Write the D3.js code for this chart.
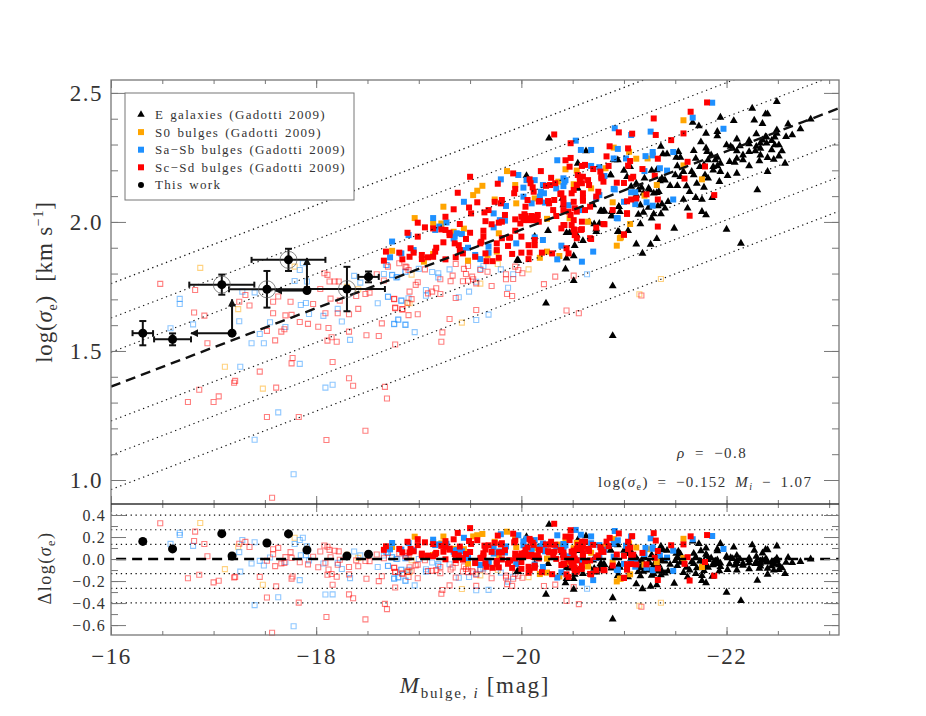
<!DOCTYPE html>
<html>
<head>
<meta charset="utf-8">
<script src="https://cdn.jsdelivr.net/npm/d3@7"></script>
<style>
body { margin: 0; background: #fff; }
text { font-family: "Liberation Serif", serif; fill: #333; }
</style>
</head>
<body>
<div id="chart"></div>
<script>
// all points as [M_bulge, log(sigma_e)]
const openRed = [[-16.48,1.76],[-16.82,1.736],[-16.81,1.649],[-16.91,1.637],[-16.94,1.53],[-17.31,1.717],[-17.25,1.691],[-17.35,1.676],[-17.58,1.691],[-17.63,1.711],[-17.75,1.691],[-17.58,1.646],[-17.70,1.638],[-17.76,1.64],[-17.84,1.612],[-17.92,1.605],[-17.97,1.682],[-17.52,1.578],[-17.69,1.584],[-17.66,1.575],[-17.60,1.541],[-18.02,1.594],[-18.12,1.589],[-18.09,1.646],[-18.14,1.703],[-18.04,1.74],[-18.08,1.801],[-18.11,1.795],[-18.13,1.769],[-18.18,1.769],[-18.22,1.769],[-18.23,1.695],[-18.21,1.646],[-18.32,1.642],[-18.41,1.663],[-18.39,1.713],[-18.48,1.721],[-18.52,1.726],[-18.59,1.797],[-18.66,1.773],[-18.76,1.702],[-18.77,1.668],[-18.84,1.662],[-18.64,1.607],[-18.32,1.575],[-18.49,1.561],[-18.61,1.558],[-18.15,1.553],[-18.11,1.54],[-18.20,1.536],[-18.77,1.525],[-17.77,1.473],[-17.76,1.452],[-18.16,1.457],[-17.45,1.42],[-18.32,1.394],[-17.21,1.384],[-18.81,1.84],[-18.87,1.827],[-18.70,1.827],
  [-16.75,1.302],[-16.86,1.35],[-17.0,1.302],[-17.05,1.324],[-17.20,1.377],[-17.61,1.358],[-17.52,1.244],[-17.83,1.244],[-18.10,1.155],[-18.36,1.365],[-18.48,1.191],[-18.67,1.361],[-18.69,1.316],[-17.57,0.931],
  [-18.88,1.824],[-18.90,1.814],[-18.99,1.766],[-18.97,1.756],[-19.06,1.816],[-19.36,1.837],[-19.44,1.818],[-19.46,1.798],[-19.33,1.792],[-19.48,1.829],[-19.31,1.77],[-19.43,1.77],[-19.48,1.772],[-19.52,1.788],[-19.53,1.778],[-19.60,1.814],[-19.67,1.807],[-19.56,1.762],[-19.71,1.752],[-19.21,1.778],[-19.17,1.743],[-19.13,1.73],[-19.09,1.723],[-19.21,1.721],[-18.91,1.73],[-18.93,1.701],[-18.76,1.701],[-18.89,1.687],[-18.77,1.666],[-18.84,1.661],[-18.90,1.639],[-18.99,1.642],[-19.36,1.705],[-19.86,1.721],[-19.91,1.713],[-19.85,1.797],[-19.92,1.779],[-19.85,1.778],[-19.94,1.827],[-20.01,1.801],[-19.97,1.814],[-20.22,1.759],[-20.33,1.788],[-20.51,1.792],[-19.56,1.659],[-19.30,1.624],[-20.44,1.657],[-20.56,1.646],[-19.23,1.572],[-19.22,1.536],[-21.17,1.715]];
const openBlue = [[-16.67,1.702],[-16.67,1.682],[-16.58,1.588],[-16.80,1.603],[-17.25,1.615],[-17.40,1.727],[-17.28,1.73],[-17.45,1.566],[-17.37,1.53],[-17.49,1.53],[-17.55,1.611],[-17.70,1.593],[-17.26,1.439],[-17.84,1.45],[-17.79,1.771],[-17.84,1.814],[-17.91,1.769],[-17.87,1.84],[-17.85,1.678],[-17.90,1.686],[-17.93,1.643],[-18.07,1.636],[-18.21,1.663],[-18.25,1.614],[-18.33,1.543],[-18.37,1.791],[-18.43,1.765],[-18.60,1.685],[-18.66,1.798],[-18.74,1.795],[-18.79,1.786],[-18.87,1.807],[-18.70,1.711],[-18.83,1.695],[-18.80,1.62],[-18.76,1.605],[-18.87,1.601],[-18.69,1.833],
  [-17.63,1.262],[-17.40,1.156],[-17.78,1.022],[-18.09,1.358],[-18.16,1.369],
  [-18.68,1.833],[-18.74,1.794],[-18.78,1.785],[-18.87,1.807],[-19.0,1.818],[-19.13,1.806],[-19.19,1.801],[-19.19,1.785],[-19.30,1.816],[-19.60,1.818],[-19.63,1.829],[-19.80,1.816],[-19.92,1.797],[-19.56,1.768],[-19.49,1.73],[-19.87,1.745],[-19.07,1.736],[-19.07,1.714],[-19.39,1.708],[-18.70,1.709],[-18.83,1.695],[-18.90,1.704],[-18.80,1.623],[-18.76,1.604],[-18.87,1.602],[-18.96,1.573],[-19.56,1.62],[-19.68,1.641],[-20.64,1.797]];
const openOrange = [[-16.87,1.822],[-17.24,1.662],[-17.11,1.439],[-17.79,1.827],[-18.41,1.739],[-18.30,1.749],[-18.89,1.687],[-17.48,1.354],[-19.42,1.61],[-19.60,1.761],[-19.77,1.837],[-20.07,1.816],[-18.93,1.796],[-18.91,1.685],[-21.36,1.779],[-21.15,1.72]];

const ellipticals = [[-22.49,2.466],[-22.25,2.44],[-22.38,2.418],[-22.40,2.418],[-21.94,2.405],[-22.07,2.392],[-22.27,2.394],[-22.35,2.381],[-22.60,2.379],[-22.82,2.398],[-22.72,2.36],[-22.64,2.337],[-22.58,2.33],[-22.49,2.356],[-22.49,2.343],[-22.47,2.328],[-22.44,2.315],[-22.38,2.33],[-22.29,2.341],[-22.35,2.317],[-22.33,2.305],[-22.10,2.321],[-22.22,2.315],[-22.22,2.302],[-22.0,2.298],[-22.04,2.292],[-22.13,2.294],[-22.10,2.275],[-22.06,2.285],[-22.22,2.272],[-22.28,2.275],[-22.33,2.285],[-22.47,2.298],[-22.51,2.298],[-22.54,2.275],[-22.39,2.328],[-22.51,2.255],[-22.46,2.242],[-22.40,2.249],[-22.32,2.236],[-22.57,2.227],[-22.40,2.195],[-22.22,2.217],[-22.16,2.24],[-22.08,2.23],[-22.10,2.246],[-22.10,2.188],[-22.01,2.179],[-21.93,2.156],[-22.30,2.124],[-21.94,2.195],[-21.91,2.25],[-21.85,2.259],[-21.91,2.217],[-21.87,2.214],[-21.82,2.24],[-21.78,2.221],[-21.81,2.272],[-21.80,2.286],[-21.75,2.31],[-21.80,2.343],[-21.91,2.35],[-21.91,2.333],[-21.73,2.372],[-21.67,2.385],[-21.68,2.276],[-21.70,2.246],[-21.53,2.272],[-21.51,2.25],[-21.55,2.25],[-21.52,2.217],[-21.42,2.263],[-21.38,2.263],[-21.36,2.292],[-21.58,2.195],[-21.50,2.182],[-21.68,2.182],[-21.82,2.169],[-21.79,2.182],[-21.64,2.117],[-21.71,2.149],[-21.61,2.139],[-21.52,2.14],[-21.45,2.14],[-21.78,2.134],[-21.70,2.094],[-21.76,2.087],[-21.86,2.094],[-21.58,2.087],[-21.62,2.053],[-21.76,2.04],[-21.80,2.027],[-22.0,1.971],[-22.14,1.917],[-21.49,1.975],[-21.32,1.935],[-21.26,1.913],[-21.12,1.914],[-21.18,1.878],[-21.16,1.992],[-21.04,1.966],[-20.95,1.962],[-21.27,2.014],[-21.14,2.029],[-21.19,2.037],[-21.29,2.031],[-21.36,2.031],[-21.40,2.053],[-21.43,2.078],[-21.37,2.069],[-21.33,2.062],[-21.24,2.056],[-21.16,2.065],[-21.14,2.124],[-21.12,2.149],[-21.17,2.134],[-21.24,2.13],[-21.32,2.113],[-21.34,2.117],[-21.20,2.169],[-21.27,2.199],[-21.32,2.201],[-21.37,2.169],[-21.35,2.159],[-21.0,2.199],[-21.03,2.175],[-20.87,2.182],[-20.95,2.059],[-20.96,2.04],[-20.88,2.023],[-20.80,2.042],[-20.77,2.042],[-22.39,2.305],[-22.44,2.279],[-22.16,2.259],[-22.33,2.259],[-22.29,2.292],[-21.89,2.24],[-21.94,2.227],[-22.03,2.233],[-21.87,2.2],[-21.74,2.214],[-21.66,2.195],[-21.55,2.175],[-21.40,2.162],[-21.29,2.111],[-21.25,2.124],[-21.19,2.111],[-21.12,2.104],[-21.07,2.137],[-21.06,2.214],[-20.94,2.24],
  [-20.27,2.324],[-20.63,2.275],[-20.55,2.227],[-20.40,2.091],[-20.05,2.179],[-20.55,2.13],[-20.87,2.182],[-20.70,2.066],[-20.78,2.042],[-20.81,2.042],[-20.88,2.04],[-20.88,2.023],[-20.95,2.059],[-20.76,1.994],[-20.71,1.992],[-20.66,2.0],[-20.44,1.958],[-20.47,1.958],[-20.26,1.966],[-20.54,1.949],[-20.60,1.927],[-20.73,1.962],[-20.94,1.962],[-20.52,1.908],[-20.44,1.859],[-20.51,1.868],[-19.96,1.852],[-20.43,1.817],[-20.13,1.943],[-20.91,2.24],[-20.41,2.066],[-20.73,1.972],
  [-19.97,1.85],[-20.51,1.772],[-20.24,1.685],[-20.89,1.752],[-20.89,1.559]];
const s0Bulges = [[-19.86,2.197],[-19.62,2.14],[-19.57,2.121],[-19.53,2.104],[-19.24,2.059],[-18.96,2.015],[-19.22,1.994],[-19.44,1.974],[-19.78,1.956],[-19.95,2.072],[-19.74,2.087],[-19.94,2.143],[-20.13,2.091],[-20.36,2.156],[-20.43,2.204],[-20.54,2.199],[-20.90,2.288],[-20.51,2.146],[-20.89,2.076],[-20.25,1.885],[-20.18,1.861],[-20.37,1.868],[-19.48,1.85],[-19.67,1.872],[-19.76,1.885],[-19.05,1.846],[-19.34,1.962],[-20.93,1.908],[-20.82,2.208],[-19.14,1.994],
  [-21.58,2.394],[-21.05,2.272],[-21.12,2.245],[-21.23,2.246],[-21.58,2.219],[-21.76,2.165],[-21.32,2.143],[-21.20,2.102],[-21.06,1.992],[-20.97,1.94],
  [-20.68,2.13],[-20.25,2.012],[-20.47,2.014],[-20.65,2.001],[-20.96,1.937],[-18.74,1.888],[-19.14,1.876]];
const sabBulges = [[-20.53,2.315],[-20.58,2.279],[-20.68,2.279],[-20.91,2.363],[-20.94,2.283],[-20.90,2.246],[-20.35,2.239],[-19.97,2.182],[-19.80,2.165],[-20.05,2.162],[-20.13,2.162],[-20.21,2.143],[-20.41,2.139],[-20.43,2.162],[-20.02,2.133],[-19.44,2.078],[-19.85,2.062],[-20.02,2.098],[-20.18,2.098],[-20.23,2.075],[-20.22,2.111],[-20.10,2.072],[-20.46,2.065],[-20.68,2.217],[-20.76,2.212],[-20.73,2.091],[-20.91,2.126],[-20.94,2.014],[-20.57,2.046],[-20.76,2.104],[-19.14,2.015],[-19.27,1.998],[-19.20,1.982],[-19.16,1.969],[-18.90,1.949],[-19.73,2.033],[-19.73,1.979],[-19.79,2.007],[-19.37,1.956],[-19.42,1.953],[-19.35,1.943],[-19.48,1.9],[-19.43,1.891],[-19.60,1.856],[-19.68,1.881],[-19.95,1.917],[-20.21,1.93],[-20.39,1.908],[-20.13,1.94],[-20.70,1.885],[-20.59,1.846],[-20.35,1.855],[-18.83,1.878],[-18.95,1.891],[-19.34,1.936],
  [-21.86,2.462],[-21.67,2.404],[-21.97,2.361],[-21.26,2.35],[-21.07,2.337],[-21.28,2.271],[-21.28,2.258],[-21.21,2.255],[-21.48,2.271],[-21.02,2.246],[-21.35,2.208],[-21.42,2.199],[-21.20,2.197],[-20.90,2.128],[-21.07,2.115],[-21.11,2.115],[-21.48,2.087],[-21.0,2.078],[-21.11,2.069],[-21.22,2.076],[-21.28,2.063],[-20.93,2.015],[-20.81,2.178],
  [-20.19,2.117],[-20.18,2.085],[-20.41,2.169],[-20.42,2.156],[-20.34,2.13],[-18.74,1.924],[-19.55,1.872],[-18.72,1.863],[-19.84,2.005],[-19.68,1.905]];
const scdBulges = [[-20.32,2.339],[-20.48,2.305],[-19.50,2.175],[-19.38,2.113],[-19.77,2.148],[-19.92,2.188],[-20.19,2.197],[-20.43,2.239],[-20.48,2.248],[-20.47,2.214],[-20.86,2.293],[-20.95,2.347],[-20.83,2.254],[-20.85,2.217],[-20.59,2.217],[-20.62,2.221],[-20.70,2.205],[-20.77,2.195],[-20.78,2.175],[-20.57,2.175],[-20.60,2.175],[-20.65,2.162],[-20.66,2.143],[-20.80,2.156],[-20.75,2.117],[-20.59,2.15],[-20.51,2.124],[-20.49,2.111],[-20.29,2.171],[-20.33,2.15],[-20.28,2.143],[-20.08,2.165],[-20.09,2.15],[-20.11,2.134],[-20.12,2.117],[-19.94,2.128],[-19.93,2.111],[-20.18,2.081],[-20.06,2.085],[-20.04,2.059],[-20.32,2.085],[-20.38,2.108],[-20.41,2.091],[-20.51,2.078],[-20.60,2.082],[-20.27,2.072],[-20.31,2.046],[-20.41,2.046],[-20.46,2.04],[-20.52,2.053],[-20.48,2.027],[-20.54,2.04],[-20.62,2.046],[-20.67,2.059],[-20.51,2.007],[-20.49,1.988],[-20.41,1.988],[-20.39,1.975],[-20.59,2.001],[-20.51,1.971],[-20.59,1.972],[-20.52,1.949],[-20.68,1.934],[-20.80,1.992],[-20.04,2.023],[-20.10,2.023],[-20.0,2.02],[-20.14,2.02],[-20.02,2.007],[-20.07,2.007],[-20.12,2.007],[-19.94,2.01],[-19.99,1.994],[-20.17,2.001],[-20.34,2.023],[-19.94,1.966],[-19.89,1.94],[-20.0,1.943],[-20.13,1.93],[-20.13,1.91],[-20.07,1.91],[-20.0,1.881],[-20.08,1.881],[-20.20,1.881],[-20.30,1.878],[-20.44,1.898],[-20.46,1.878],[-20.07,1.856],[-19.91,1.876],[-19.87,1.907],[-19.76,1.917],[-19.78,1.861],[-19.65,1.878],[-19.63,1.966],[-19.63,1.943],[-19.61,1.923],[-19.60,1.917],[-19.81,2.085],[-19.74,2.078],[-19.80,2.072],[-19.57,2.076],[-19.49,2.056],[-19.51,2.033],[-19.68,2.046],[-19.64,2.037],[-19.84,2.027],[-19.65,2.003],[-19.81,2.001],[-19.71,1.991],[-19.40,1.992],[-19.26,2.02],[-19.34,2.049],[-18.99,1.997],[-19.06,1.979],[-19.14,1.975],[-18.89,1.958],[-18.99,1.943],[-19.22,1.971],[-19.26,1.969],[-19.30,1.958],[-19.30,1.949],[-19.50,1.958],[-19.24,1.921],[-19.35,1.917],[-19.39,1.91],[-19.40,1.891],[-19.43,1.878],[-19.55,1.865],[-19.17,1.9],[-19.16,1.885],[-18.92,1.898],[-18.95,1.881],[-19.03,1.872],[-19.03,1.856],[-18.91,1.865],[-19.09,1.863],[-19.14,1.865],[-18.84,1.855],[-19.66,1.848],[-19.72,1.848],[-18.68,1.885],[-18.66,1.85],
  [-21.81,2.463],[-21.65,2.427],[-21.29,2.401],[-21.58,2.343],[-21.31,2.337],[-21.08,2.342],[-21.46,2.317],[-21.04,2.285],[-21.62,2.233],[-21.33,2.245],[-21.06,2.236],[-21.04,2.218],[-21.18,2.205],[-21.79,2.215],[-21.59,2.168],[-21.30,2.179],[-21.09,2.175],[-21.07,2.169],[-20.93,2.152],[-21.0,2.151],[-20.78,2.169],[-21.22,2.107],[-21.33,2.087],[-21.12,2.091],[-21.07,2.087],[-21.03,2.08],[-21.88,2.104],[-20.89,2.046],[-21.03,2.031],[-21.64,2.024],[-21.33,1.982],[-21.0,1.95],[-20.81,1.991],
  [-19.46,1.934],[-19.26,1.855],[-19.36,1.863],[-18.81,1.881],[-19.78,1.997],[-19.81,1.937],[-19.76,1.891],[-19.88,1.939],[-20.16,2.027],[-20.05,2.014],[-20.15,2.008],[-20.03,2.03],[-20.55,2.182],[-20.57,2.163],[-20.54,2.143],[-20.60,2.111],[-20.60,2.092],[-20.73,2.098],[-20.24,2.14],[-20.17,2.079],[-20.26,2.081],[-20.39,2.111],[-20.41,2.07],[-20.58,1.969],[-20.42,1.988],[-20.52,1.969],[-20.54,1.937],[-20.67,1.937],[-20.73,1.978],[-21.03,2.034],[-21.0,1.952]];

// this work: values, errors
const workM = [-16.31,-16.6,-17.18,-17.08,-17.52,-17.91,-18.3,-17.73,-18.51];
const workLog = [1.569,1.545,1.569,1.757,1.739,1.734,1.74,1.853,1.787];
const workMErr = [0.1,0.18,0,0.317,0.37,0,0.37,0.36,0.1];
const workLogErr = [0.047,0.023,0,0.039,0.071,0,0.086,0.043,0.021];
const workCircled = [3,4,6,7];
// limits: [index, M end, log end]
const workLimits = [[2,-16.78,1.70],[5,-17.6,1.86]];

const fitSlope = -0.152, fitZero = -1.07, fitScatter = 0.133;
const scatterSteps = [-3,-2,-1,1,2,3];

const xMajor = [-16,-18,-20,-22];
const xMinor = d3.range(-16,-23.1,-0.5);
const yMajor = [1,1.5,2,2.5];
const yMinor = d3.range(1,2.55,0.1);
const resMajor = [-0.6,-0.4,-0.2,0,0.2,0.4];
const resMinor = d3.range(-0.6,0.45,0.1);

const legendRows = ["E galaxies (Gadotti 2009)","S0 bulges (Gadotti 2009)","Sa\u2212Sb bulges (Gadotti 2009)","Sc\u2212Sd bulges (Gadotti 2009)","This work"];
const legendColors = ["#000","#ffa500","#1e90ff","#f00","#000"];

const plotLeft = 111, plotRight = 839, plotTop = 80, plotMid = 504, plotBottom = 635;
const svg = d3.select("#chart").append("svg").attr("width",926).attr("height",716);

const x = d3.scaleLinear().domain([-16,-23.096]).range([plotLeft,plotRight]);
const y = d3.scaleLinear().domain([0.907,2.55]).range([plotMid,plotTop]);
const yRes = d3.scaleLinear().domain([-0.69,0.5]).range([plotBottom,plotMid]);

const fit = m => fitSlope*m + fitZero;
const minus = v => String(v).replace("-","\u2212");

const square = d3.symbol().type(d3.symbolSquare).size(36)();
const openSquare = d3.symbol().type(d3.symbolSquare).size(25)();
const triangle = d3.symbol().type(d3.symbolTriangle).size(27)();

function drawPoints(g, data, yFn, path, fill, stroke, opacity) {
  g.append("g").selectAll("path").data(data).enter().append("path")
    .attr("d",path)
    .attr("transform",d => "translate("+x(d[0])+","+yFn(d)+")")
    .attr("fill",fill)
    .attr("stroke",stroke)
    .attr("stroke-width",stroke=="none" ? 0 : 1.1)
    .attr("stroke-opacity",opacity);
}

function drawSample(yFn) {
  let g = svg.append("g");
  drawPoints(g,openOrange,yFn,openSquare,"none","#ffa500",0.5);
  drawPoints(g,openBlue,yFn,openSquare,"none","#1e90ff",0.5);
  drawPoints(g,openRed,yFn,openSquare,"none","#f00",0.5);
  drawPoints(g,ellipticals,yFn,triangle,"#000","none",1);
  drawPoints(g,s0Bulges,yFn,square,"#ffa500","none",1);
  drawPoints(g,sabBulges,yFn,square,"#1e90ff","none",1);
  drawPoints(g,scdBulges,yFn,square,"#f00","none",1);
}

drawSample(d => y(d[1]));
drawSample(d => yRes(d[1]-fit(d[0])));

// fit line and scatter lines
svg.append("clipPath").attr("id","mainClip").append("rect")
  .attr("x",plotLeft).attr("y",plotTop).attr("width",plotRight-plotLeft).attr("height",plotMid-plotTop);
const dotted = "1.3 3.6";
function fitLine(off,dash,w) {
  svg.append("line")
    .attr("clip-path","url(#mainClip)")
    .attr("x1",x(-16)).attr("x2",x(-23.096))
    .attr("y1",y(fit(-16)+off)).attr("y2",y(fit(-23.096)+off))
    .attr("stroke","#111").attr("stroke-width",w).attr("stroke-dasharray",dash);
}
scatterSteps.forEach(s => fitLine(s*fitScatter,dotted,1.2));
fitLine(0,"10 6",2.4);

scatterSteps.forEach(s => {
  svg.append("line").attr("x1",plotLeft).attr("x2",plotRight)
    .attr("y1",yRes(s*fitScatter)).attr("y2",yRes(s*fitScatter))
    .attr("stroke","#111").attr("stroke-width",1.2).attr("stroke-dasharray",dotted);
});
svg.append("line").attr("x1",x(-16.05)).attr("x2",plotRight)
  .attr("y1",yRes(0)).attr("y2",yRes(0))
  .attr("stroke","#000").attr("stroke-width",2.4).attr("stroke-dasharray","10 6");

// this work
svg.append("defs").append("marker").attr("id","arrow")
  .attr("viewBox","0 0 10 10").attr("refX",9).attr("refY",5)
  .attr("markerWidth",8).attr("markerHeight",8).attr("markerUnits","userSpaceOnUse")
  .attr("orient","auto")
  .append("path").attr("d","M0,0L10,5L0,10Z").attr("fill","#111");

let work = svg.append("g").attr("stroke","#111").attr("stroke-width",2);
workM.forEach((m,i) => {
  if (workMErr[i] > 0) {
    work.append("line").attr("x1",x(m-workMErr[i])).attr("x2",x(m+workMErr[i])).attr("y1",y(workLog[i])).attr("y2",y(workLog[i]));
    [m-workMErr[i],m+workMErr[i]].forEach(e => {
      work.append("line").attr("x1",x(e)).attr("x2",x(e)).attr("y1",y(workLog[i])-3).attr("y2",y(workLog[i])+3);
    });
    work.append("line").attr("x1",x(m)).attr("x2",x(m)).attr("y1",y(workLog[i]-workLogErr[i])).attr("y2",y(workLog[i]+workLogErr[i]));
    [workLog[i]-workLogErr[i],workLog[i]+workLogErr[i]].forEach(e => {
      work.append("line").attr("x1",x(m)-3.5).attr("x2",x(m)+3.5).attr("y1",y(e)).attr("y2",y(e));
    });
  }
});
workLimits.forEach(l => {
  let m = workM[l[0]], s = workLog[l[0]];
  work.append("line").attr("x1",x(m)).attr("x2",x(l[1])).attr("y1",y(s)).attr("y2",y(s)).attr("marker-end","url(#arrow)");
  work.append("line").attr("x1",x(m)).attr("x2",x(m)).attr("y1",y(s)).attr("y2",y(l[2])).attr("marker-end","url(#arrow)");
});
workCircled.forEach(i => {
  svg.append("circle").attr("cx",x(workM[i])).attr("cy",y(workLog[i])).attr("r",8.5)
    .attr("fill","none").attr("stroke","#555").attr("stroke-width",0.7);
});
svg.append("g").selectAll("circle").data(workM).enter().append("circle")
  .attr("cx",d => x(d)).attr("cy",(d,i) => y(workLog[i])).attr("r",4.5).attr("fill","#000");
svg.append("g").selectAll("circle").data(workM).enter().append("circle")
  .attr("cx",d => x(d)).attr("cy",(d,i) => yRes(workLog[i]-fit(d))).attr("r",4.5).attr("fill","#000");

// frames and ticks
function styleAxis(g) {
  g.select(".domain").remove();
  g.selectAll("line").attr("stroke","#777").attr("stroke-width",1);
}
function tickAxis(axisFn, scale, vals, len, pos) {
  let a = axisFn(scale).tickValues(vals).tickSize(len).tickFormat("");
  svg.append("g").attr("transform",pos).call(a).call(styleAxis);
}
[[y,yMinor,yMajor],[yRes,resMinor,resMajor]].forEach(p => {
  tickAxis(d3.axisRight,p[0],p[1],7,"translate("+plotLeft+",0)");
  tickAxis(d3.axisRight,p[0],p[2],15,"translate("+plotLeft+",0)");
  tickAxis(d3.axisLeft,p[0],p[1],7,"translate("+plotRight+",0)");
  tickAxis(d3.axisLeft,p[0],p[2],15,"translate("+plotRight+",0)");
});
tickAxis(d3.axisBottom,x,xMinor,4,"translate(0,"+plotTop+")");
tickAxis(d3.axisBottom,x,xMajor,8,"translate(0,"+plotTop+")");
tickAxis(d3.axisTop,x,xMinor,4,"translate(0,"+plotMid+")");
tickAxis(d3.axisTop,x,xMajor,8,"translate(0,"+plotMid+")");
tickAxis(d3.axisBottom,x,xMinor,4,"translate(0,"+plotMid+")");
tickAxis(d3.axisBottom,x,xMajor,8,"translate(0,"+plotMid+")");
tickAxis(d3.axisTop,x,xMinor,4,"translate(0,"+plotBottom+")");
tickAxis(d3.axisTop,x,xMajor,8,"translate(0,"+plotBottom+")");

svg.append("rect").attr("x",plotLeft).attr("y",plotTop).attr("width",plotRight-plotLeft).attr("height",plotBottom-plotTop)
  .attr("fill","none").attr("stroke","#777").attr("stroke-width",1.3);
svg.append("line").attr("x1",plotLeft).attr("x2",plotRight).attr("y1",plotMid).attr("y2",plotMid)
  .attr("stroke","#333").attr("stroke-width",1.3);

// tick labels
svg.append("g").attr("transform","translate(0,"+plotBottom+")")
  .call(d3.axisBottom(x).tickValues(xMajor).tickSize(0).tickPadding(13).tickFormat(d => minus(d)))
  .call(g => g.select(".domain").remove())
  .selectAll("text").style("font-family","'Liberation Serif', serif").style("font-size","23px").style("letter-spacing","1.5px").attr("fill","#333");
svg.append("g").attr("transform","translate(105,0)")
  .call(d3.axisLeft(y).tickValues(yMajor).tickSize(0).tickPadding(2).tickFormat(d3.format(".1f")))
  .call(g => g.select(".domain").remove())
  .selectAll("text").style("font-family","'Liberation Serif', serif").style("font-size","23px").style("letter-spacing","1.5px").attr("fill","#333");
svg.append("g").attr("transform","translate(108,0)")
  .call(d3.axisLeft(yRes).tickValues(resMajor).tickSize(0).tickPadding(2).tickFormat(d => minus(d3.format(".1f")(d))))
  .call(g => g.select(".domain").remove())
  .selectAll("text").style("font-family","'Liberation Serif', serif").style("font-size","16px").style("letter-spacing","1.2px").attr("fill","#333");

// axis titles
let yTitle = svg.append("text").attr("transform","translate(52,282) rotate(-90)").attr("text-anchor","middle")
  .style("font-size","23px").style("letter-spacing","0.8px");
yTitle.append("tspan").text("log(");
yTitle.append("tspan").text("\u03c3").style("font-style","italic");
yTitle.append("tspan").text("e").attr("dy",5).style("font-size","14px");
yTitle.append("tspan").text(")  [km s").attr("dy",-5).style("white-space","pre");
yTitle.append("tspan").text("\u22121").attr("dy",-9).style("font-size","14px");
yTitle.append("tspan").text("]").attr("dy",9);

let resTitle = svg.append("text").attr("transform","translate(51,568) rotate(-90)").attr("text-anchor","middle")
  .style("font-size","18px").style("letter-spacing","1.5px");
resTitle.append("tspan").text("\u0394log(");
resTitle.append("tspan").text("\u03c3").style("font-style","italic");
resTitle.append("tspan").text("e").attr("dy",4).style("font-size","12px");
resTitle.append("tspan").text(")").attr("dy",-4);

let xTitle = svg.append("text").attr("x",475).attr("y",693).attr("text-anchor","middle")
  .style("font-size","23px").style("letter-spacing","1.7px");
xTitle.append("tspan").text("M").style("font-style","italic");
xTitle.append("tspan").text("bulge, ").attr("dy",5).style("font-size","15px");
xTitle.append("tspan").text("i").style("font-size","15px").style("font-style","italic");
xTitle.append("tspan").text(" [mag]").attr("dy",-5);

// relation text
let rho = svg.append("text").attr("x",677).attr("y",458).style("font-size","15px").style("letter-spacing","1.5px").style("word-spacing","4px");
rho.append("tspan").text("\u03c1").style("font-style","italic");
rho.append("tspan").text(" = \u22120.8");
let rel = svg.append("text").attr("x",598).attr("y",487).style("font-size","15px").style("letter-spacing","1.4px").style("word-spacing","3.5px");
rel.append("tspan").text("log(");
rel.append("tspan").text("\u03c3").style("font-style","italic");
rel.append("tspan").text("e").attr("dy",3).style("font-size","10px");
rel.append("tspan").text(") = \u22120.152 ").attr("dy",-3);
rel.append("tspan").text("M").style("font-style","italic");
rel.append("tspan").text("i").attr("dy",3).style("font-size","10px").style("font-style","italic");
rel.append("tspan").text(" \u2212 1.07").attr("dy",-3);

// legend
svg.append("rect").attr("x",125).attr("y",93).attr("width",229).attr("height",107)
  .attr("fill","#fff").attr("stroke","#777").attr("stroke-width",1);
let rows = svg.append("g").selectAll("g").data(legendRows).enter().append("g")
  .attr("transform",(d,i) => "translate(141,"+(114.5+i*17.6)+")");
rows.append("path")
  .attr("d",(d,i) => i==0 ? d3.symbol().type(d3.symbolTriangle).size(24)() : i==4 ? d3.symbol().type(d3.symbolCircle).size(28)() : square)
  .attr("fill",(d,i) => legendColors[i]);
rows.append("text").attr("x",14).attr("y",4.5).text(d => d)
  .style("font-size","13px").style("letter-spacing","1.3px").style("word-spacing","1.5px");
</script>
</body>
</html>
